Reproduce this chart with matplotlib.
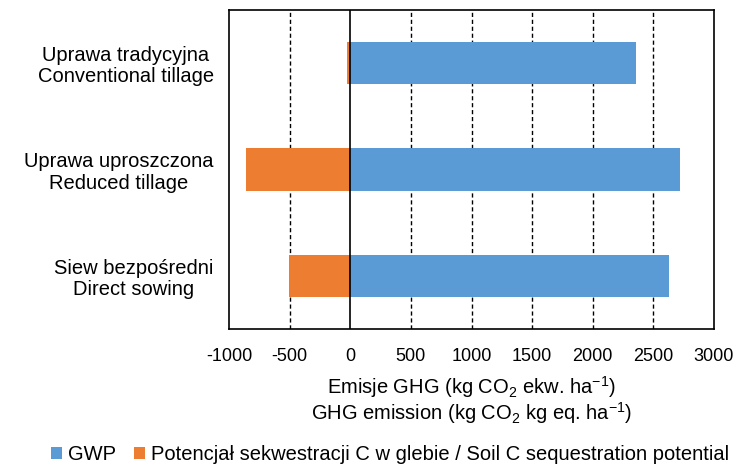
import matplotlib
matplotlib.use("Agg")
import matplotlib.pyplot as plt
import numpy as np

plt.rcParams['font.family'] = ['Liberation Sans', 'DejaVu Sans']
plt.rcParams['mathtext.default'] = 'regular'

categories = ["Uprawa tradycyjna\nConventional tillage",
              "Uprawa uproszczona\nReduced tillage",
              "Siew bezpośredni\nDirect sowing"]
gwp = [2360, 2720, 2625]
soil_c = [-30, -860, -505]
xticks = [-1000, -500, 0, 500, 1000, 1500, 2000, 2500, 3000]

fig = plt.figure(figsize=(7.45, 4.70), dpi=100)
ax = fig.add_axes([229/745, 1-329/470, (714-229)/745, (329-10)/470])

y = np.arange(len(categories))
ax.barh(y, gwp, height=0.4, color='#5B9BD5', label='GWP', zorder=3)
ax.barh(y, soil_c, height=0.4, color='#ED7D31',
        label='Potencjał sekwestracji C w glebie / Soil C sequestration potential', zorder=3)

ax.set_xlim(-1000, 3000)
ax.set_ylim(len(categories)-0.5, -0.5)
ax.set_xticks(xticks)
ax.set_xticklabels([str(v) for v in xticks], fontsize=13)
ax.set_yticks(y)
ax.set_yticklabels(categories, fontsize=14.5, linespacing=1.15)
for lab in ax.get_yticklabels():
    lab.set_multialignment('center')
ax.tick_params(axis='both', length=0)
ax.tick_params(axis='y', pad=11)
ax.tick_params(axis='x', pad=14)

for v in xticks[1:-1]:
    if v == 0:
        ax.axvline(0, color='black', lw=1.2, zorder=4)
    else:
        ax.axvline(v, color='black', lw=1.0, ls=(0, (3, 2)), zorder=1)

for s in ax.spines.values():
    s.set_color('black')
    s.set_linewidth(1.2)

ax.set_xlabel('Emisje GHG (kg CO$_2$ ekw. ha$^{-1}$)\nGHG emission (kg CO$_2$ kg eq. ha$^{-1}$)',
              fontsize=14.5, labelpad=6, linespacing=1.0)

fig.legend(loc='center', bbox_to_anchor=(390/745, 1-455/470), ncol=2, frameon=False,
           fontsize=14.5, handlelength=0.55, handleheight=0.55, handletextpad=0.3,
           columnspacing=0.9)

fig.savefig('out.png', dpi=100)
